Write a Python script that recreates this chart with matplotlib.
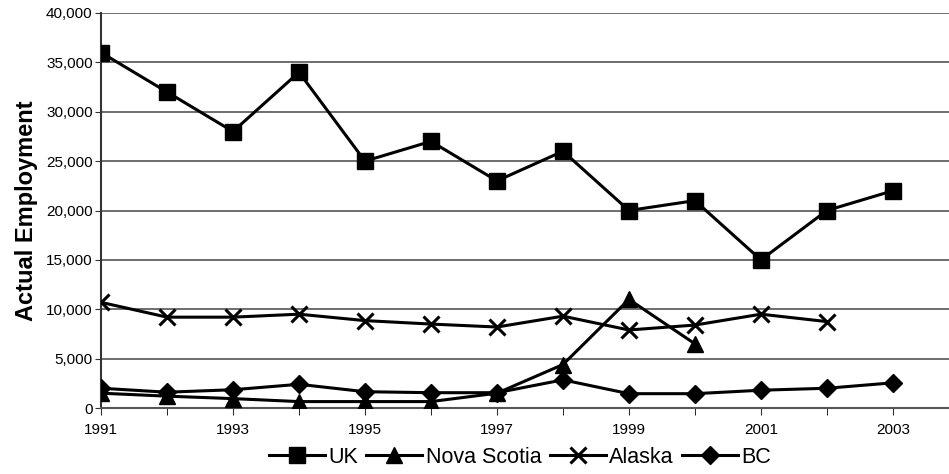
import matplotlib.pyplot as plt
from matplotlib.ticker import MultipleLocator, FixedLocator, FuncFormatter

plt.rcParams['font.family'] = ['Liberation Sans', 'DejaVu Sans']

# Employment by region, 1991-2003
years = list(range(1991, 2004))
uk = [36000, 32000, 28000, 34000, 25000, 27000, 23000, 26000, 20000, 21000, 15000, 20000, 22000]
nova_scotia = [1500, 1200, 950, 650, 650, 650, 1500, 4400, 11000, 6500]
alaska = [10700, 9200, 9200, 9500, 8850, 8500, 8200, 9300, 7900, 8400, 9500, 8750]
bc = [2000, 1600, 1850, 2400, 1650, 1550, 1550, 2850, 1450, 1450, 1800, 2000, 2550]

fig = plt.figure(figsize=(9.49, 4.74), dpi=100)
ax = fig.add_axes([101 / 949, 66 / 474, 1 - 101 / 949, (408 - 13) / 474])

lw = 2.2
ax.plot(years, uk, color='black', lw=lw, marker='s', ms=11, label='UK', zorder=3)
ax.plot(years[:len(nova_scotia)], nova_scotia, color='black', lw=lw, marker='^', ms=12,
        label='Nova Scotia', zorder=3)
ax.plot(years[:len(alaska)], alaska, color='black', lw=lw, marker='x', ms=11, mew=2.2,
        label='Alaska', zorder=3)
ax.plot(years, bc, color='black', lw=lw, marker='D', ms=9, label='BC', zorder=3)

ax.set_xlim(1991, 2003.85)
ax.set_ylim(0, 40000)
ax.yaxis.set_major_locator(MultipleLocator(5000))
ax.yaxis.set_major_formatter(FuncFormatter(lambda v, p: f'{int(v):,}'))
ax.xaxis.set_major_locator(FixedLocator(years[::2]))
ax.xaxis.set_minor_locator(FixedLocator(years[1::2]))
ax.grid(axis='y', color='#555555', lw=1.2)
ax.set_axisbelow(True)

for s in ['top', 'right']:
    ax.spines[s].set_visible(False)
ax.spines['left'].set_color('#333333')
ax.spines['bottom'].set_color('#555555')
ax.spines['left'].set_linewidth(1.5)
ax.spines['bottom'].set_linewidth(1.5)

ax.tick_params(axis='both', labelsize=11, direction='out', color='#333333')
ax.tick_params(axis='x', which='both', length=5, pad=6)
ax.tick_params(axis='y', length=4, pad=2)

ax.set_ylabel('Actual Employment', fontsize=17, fontweight='bold', labelpad=6)

fig.legend(loc='lower center', bbox_to_anchor=(0.548, -0.01), ncol=4, frameon=False,
           fontsize=15.5, handlelength=2.6, handletextpad=0.15, columnspacing=0.4,
           borderaxespad=0.1)

fig.savefig('out.png', dpi=100)
